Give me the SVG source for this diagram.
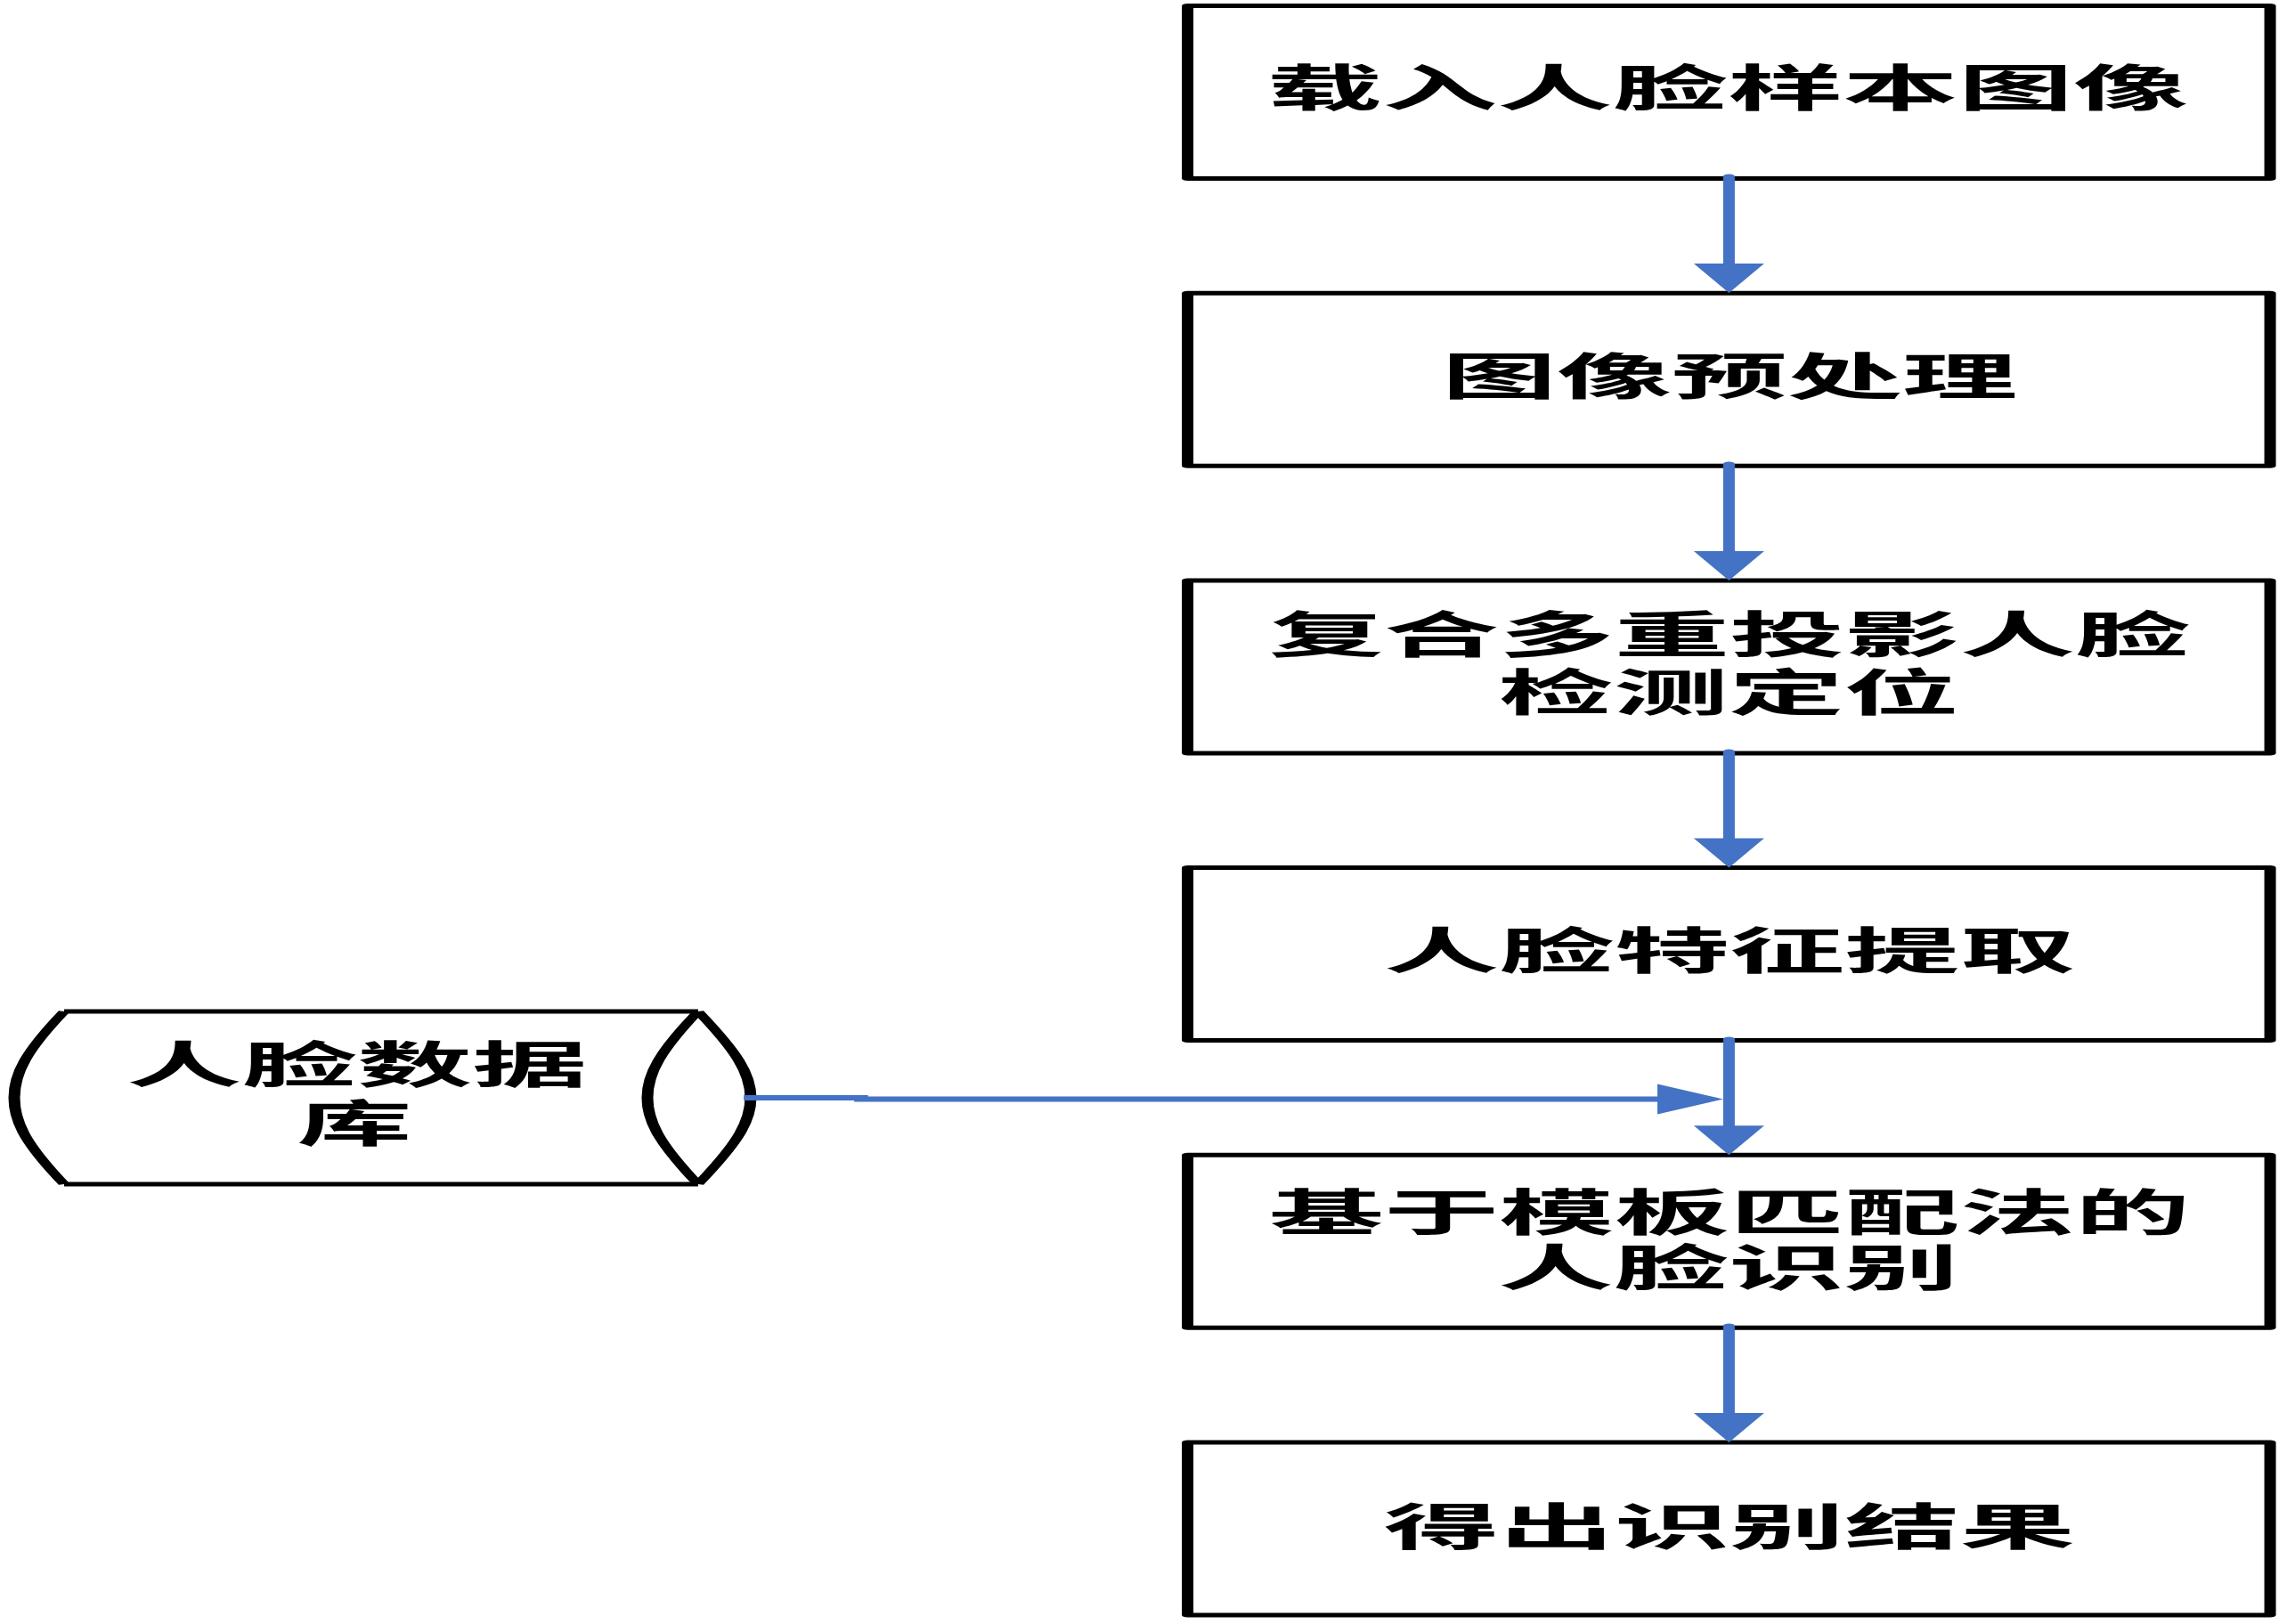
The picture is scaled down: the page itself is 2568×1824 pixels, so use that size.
<svg xmlns="http://www.w3.org/2000/svg" xmlns:xlink="http://www.w3.org/1999/xlink" width="2568" height="1824" viewBox="0 0 2568 1824">
<style>
.box{fill:#ffffff;stroke:#000000;stroke-width:5;stroke-linejoin:round}
.db{fill:none;stroke:#000000;stroke-width:5;stroke-linejoin:round}
.t{font-family:"Noto Sans CJK SC","Noto Sans CJK JP",sans-serif;font-size:56px;font-weight:bold;fill:#000000;text-anchor:middle}
.ln{fill:none;stroke:#4472C4;stroke-width:5;stroke-linecap:round}
.hl{fill:none;stroke:#4472C4;stroke-width:6}
.ah{fill:#4472C4}
</style>
<defs>
<path id="ahd" d="M-15.2,-33 L15.2,-33 L0,0 Z"/>
</defs>
<rect width="2568" height="1824" fill="#ffffff"/>
<g id="n1"><rect class="box" x="512.9" y="6.5" width="467.5" height="194" transform="scale(2.6,1)"/><text class="t" transform="translate(1940,119) scale(2.31,1)">载入人脸样本图像</text></g>
<g id="n2"><rect class="box" x="512.9" y="329.2" width="467.5" height="194" transform="scale(2.6,1)"/><text class="t" transform="translate(1942,443) scale(2.31,1)">图像预处理</text></g>
<g id="n3"><rect class="box" x="512.9" y="651.9" width="467.5" height="194" transform="scale(2.6,1)"/><text class="t" transform="translate(1942,733) scale(2.31,1)">复合多重投影人脸</text><text class="t" transform="translate(1941,798) scale(2.31,1)">检测定位</text></g>
<g id="n4"><rect class="box" x="512.9" y="974.6" width="467.5" height="194" transform="scale(2.6,1)"/><text class="t" transform="translate(1942,1088) scale(2.31,1)">人脸特征提取</text></g>
<g id="n5"><rect class="box" x="512.9" y="1297.3" width="467.5" height="194" transform="scale(2.6,1)"/><text class="t" transform="translate(1942,1382) scale(2.31,1)">基于模板匹配法的</text><text class="t" transform="translate(1941,1444) scale(2.31,1)">人脸识别</text></g>
<g id="n6"><rect class="box" x="512.9" y="1620" width="467.5" height="194" transform="scale(2.6,1)"/><text class="t" transform="translate(1942,1735) scale(2.31,1)">得出识别结果</text></g>
<g id="db">
<g transform="scale(2.6,1)">
<path class="db" d="M27.7,1136 H301.5 M27.7,1330 H301.5"/>
<path class="db" d="M27.7,1136 C11.5,1180 6.15,1205 6.15,1233 C6.15,1261 11.5,1286 27.7,1330"/>
<path class="db" d="M301.5,1136 C317.7,1180 324.2,1205 324.2,1233 C324.2,1261 317.7,1286 301.5,1330"/>
<path class="db" d="M301.5,1136 C285.4,1180 279.6,1205 279.6,1233 C279.6,1261 285.4,1286 301.5,1330"/>
</g>
<text class="t" transform="translate(401,1216) scale(2.31,1)">人脸数据</text>
<text class="t" transform="translate(398,1282) scale(2.31,1)">库</text>
</g>
<g id="connectors" transform="scale(2.6,1)">
<path class="ln" d="M746.7,198 V297"/>
<use xlink:href="#ahd" class="ah" transform="translate(746.7,329)"/>
<path class="ln" d="M746.7,521 V620"/>
<use xlink:href="#ahd" class="ah" transform="translate(746.7,652)"/>
<path class="ln" d="M746.7,844 V942"/>
<use xlink:href="#ahd" class="ah" transform="translate(746.7,974.6)"/>
<path class="ln" d="M746.7,1167 V1265"/>
<use xlink:href="#ahd" class="ah" transform="translate(746.7,1297.3)"/>
<path class="ln" d="M746.7,1489 V1588"/>
<use xlink:href="#ahd" class="ah" transform="translate(746.7,1620)"/>
<path class="hl" d="M321.2,1233 H371.9 V1234.5 H717"/>
<polygon class="ah" points="715.8,1217.5 744.2,1234.5 715.8,1251.5"/>
</g>
</svg>
